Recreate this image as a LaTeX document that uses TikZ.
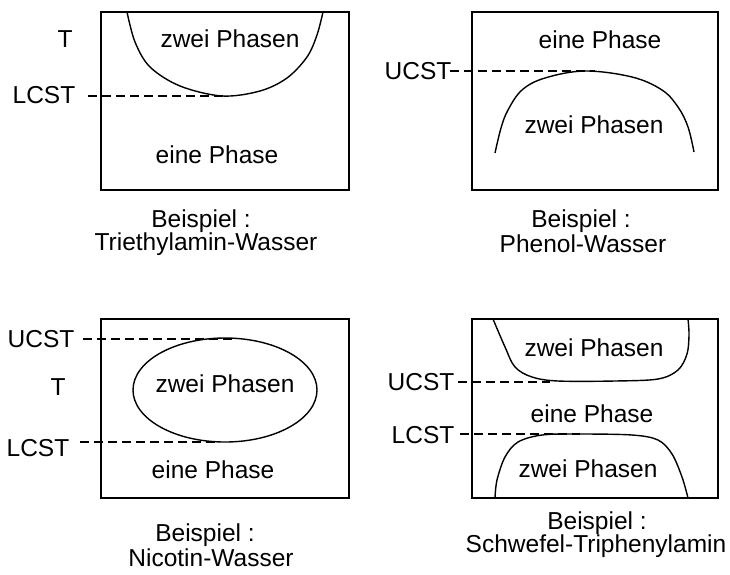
\documentclass[tikz,border=0pt]{standalone}
\usepackage{fontspec}
\setmainfont{Liberation Sans}
\begin{document}
\begin{tikzpicture}[x=1pt,y=-1pt,
  lbl/.style={font=\fontsize{24.5}{27}\selectfont, inner sep=0pt},
  frame/.style={draw, line width=1.4pt},
  curve/.style={draw, line width=1.4pt},
  crit/.style={line width=1.4pt, dash pattern=on 9pt off 5pt}]
\useasboundingbox (0,0) rectangle (730,574);
% ---------- Panel 1 ----------
\draw[frame] (101,12) rectangle (349,190);
\node[lbl] (t1) at (65,39) {T};
\node[lbl] (l1) at (44,95) {LCST};
\coordinate (l1s) at (88,96);
\coordinate (l1e) at (225,96);
\draw[crit] (l1s) -- (l1e);
\draw[curve] plot[smooth, tension=0.55] coordinates {(127,12) (135,42) (150,67) (180,86) (222,96) (260,91) (287,78) (307,57) (317,35) (323,12)};
\node[lbl] (z1) at (230,39) {zwei Phasen};
\node[lbl] (e1) at (217,155) {eine Phase};
\node[lbl] (b1) at (201,221) {Beispiel :};
\node[lbl] (c1) at (206,244) {Triethylamin-Wasser};
% ---------- Panel 2 ----------
\draw[frame] (472,12) rectangle (718,190);
\node[lbl] (e2) at (600,40) {eine Phase};
\node[lbl] (u2) at (418,71) {UCST};
\coordinate (u2s) at (450,71);
\coordinate (u2e) at (595,71);
\draw[crit] (u2s) -- (u2e);
\draw[curve] plot[smooth, tension=0.6] coordinates {(495,153) (501,128) (508,110) (522,90) (545,78) (585,71) (632,77) (662,90) (678,107) (688,127) (694,152)};
\node[lbl] (z2) at (594,125) {zwei Phasen};
\node[lbl] (b2) at (581,221) {Beispiel :};
\node[lbl] (c2) at (583,244) {Phenol-Wasser};
% ---------- Panel 3 ----------
\draw[frame] (101,319) rectangle (349,498);
\node[lbl] (u3) at (41,339) {UCST};
\node[lbl] (t3) at (58,387) {T};
\node[lbl] (l3) at (38,448) {LCST};
\coordinate (u3s) at (83,339);
\coordinate (u3e) at (235,339);
\coordinate (l3s) at (80,442);
\coordinate (l3e) at (218,442);
\draw[crit] (u3s) -- (u3e);
\draw[crit] (l3s) -- (l3e);
\draw[curve] (225,390) ellipse [x radius=92, y radius=52];
\node[lbl] (z3) at (225,384) {zwei Phasen};
\node[lbl] (e3) at (213,470) {eine Phase};
\node[lbl] (b3) at (205,535) {Beispiel :};
\node[lbl] (c3) at (211,558) {Nicotin-Wasser};
% ---------- Panel 4 ----------
\draw[frame] (472,319) rectangle (718,498);
\node[lbl] (u4) at (421,382) {UCST};
\node[lbl] (l4) at (423,435) {LCST};
\coordinate (u4s) at (458,382);
\coordinate (u4e) at (550,382);
\coordinate (l4s) at (460,434);
\coordinate (l4e) at (580,434);
\draw[crit] (u4s) -- (u4e);
\draw[crit] (l4s) -- (l4e);
\draw[curve] plot[smooth, tension=0.55] coordinates {(493,319) (505,347) (515,367) (532,377) (558,381) (615,381) (658,379) (678,370) (687,354) (689,335) (688,319)};
\draw[curve] plot[smooth, tension=0.55] coordinates {(495,498) (497,480) (505,457) (518,442) (542,435) (578,434) (632,435) (658,440) (672,454) (682,477) (688,498)};
\node[lbl] (z4a) at (594,348) {zwei Phasen};
\node[lbl] (e4) at (592,414) {eine Phase};
\node[lbl] (z4b) at (588,469) {zwei Phasen};
\node[lbl] (b4) at (597,523) {Beispiel :};
\node[lbl] (c4) at (596,546) {Schwefel-Triphenylamin};
\end{tikzpicture}
\end{document}
